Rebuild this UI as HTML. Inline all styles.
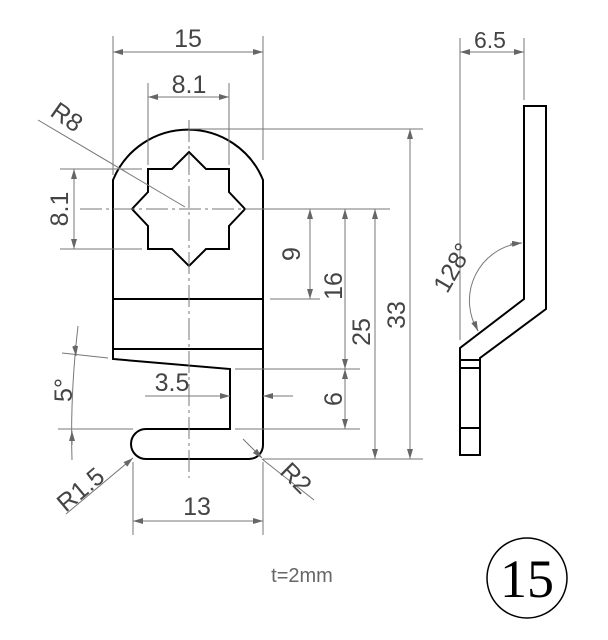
<!DOCTYPE html>
<html><head><style>html,body{margin:0;padding:0;background:#fff}</style></head>
<body>
<svg width="608" height="635" viewBox="0 0 608 635" xmlns="http://www.w3.org/2000/svg">
<defs>
<marker id="a" viewBox="0 0 10 6" refX="10" refY="3" markerWidth="10" markerHeight="6" orient="auto-start-reverse" markerUnits="userSpaceOnUse"><path d="M0,0 L10,3 L0,6 z" fill="#666"/></marker>
</defs>
<g fill="none" stroke="#000" stroke-width="2" stroke-linejoin="miter">
<path d="M113,359 L113,180 A81,81 0 0 1 263,180 L263,445 A14,14 0 0 1 249,459 L146,459 A15,15 0 0 1 146,429 L230,429 L230,369 Z"/>
<line x1="113" y1="299" x2="263" y2="299"/>
<line x1="113" y1="349" x2="263" y2="349"/>
<path d="M148,169 L172,169 L189,152 L206,169 L229,169 L229,192 L245,209 L229,226 L229,249 L206,249 L189,266 L172,249 L148,249 L148,226 L132,209 L148,192 Z"/>
<path d="M524,106 L546,106 L546,309 L480,358 L480,455 L460,455 L460,348 L524,299 Z"/>
<line x1="460" y1="360" x2="480" y2="360"/>
<line x1="460" y1="368" x2="480" y2="368"/>
<line x1="460" y1="428" x2="480" y2="428"/>
</g>
<g fill="none" stroke="#777" stroke-width="1">
<line x1="189" y1="120" x2="189" y2="478" stroke-dasharray="22,4,3,4"/>
<line x1="80" y1="209" x2="278" y2="209" stroke-dasharray="22,4,3,4"/>
<line x1="113" y1="36" x2="113" y2="175"/><line x1="263" y1="36" x2="263" y2="160"/>
<line x1="113" y1="52" x2="263" y2="52" marker-start="url(#a)" marker-end="url(#a)"/>
<line x1="148" y1="83" x2="148" y2="165"/><line x1="229" y1="83" x2="229" y2="165"/>
<line x1="148" y1="97" x2="229" y2="97" marker-start="url(#a)" marker-end="url(#a)"/>
<line x1="38" y1="120" x2="185" y2="207"/>
<line x1="60" y1="169" x2="142" y2="169"/><line x1="60" y1="249" x2="142" y2="249"/>
<line x1="74" y1="169" x2="74" y2="249" marker-start="url(#a)" marker-end="url(#a)"/>
<line x1="190" y1="129" x2="423" y2="129"/>
<line x1="250" y1="209" x2="390" y2="209"/>
<line x1="270" y1="299" x2="320" y2="299"/>
<line x1="235" y1="369" x2="360" y2="369"/>
<line x1="235" y1="429" x2="360" y2="429"/>
<line x1="263" y1="459" x2="423" y2="459"/>
<line x1="310" y1="209" x2="310" y2="299" marker-start="url(#a)" marker-end="url(#a)"/>
<line x1="345" y1="209" x2="345" y2="369" marker-start="url(#a)" marker-end="url(#a)"/>
<line x1="345" y1="369" x2="345" y2="429" marker-start="url(#a)" marker-end="url(#a)"/>
<line x1="375" y1="209" x2="375" y2="459" marker-start="url(#a)" marker-end="url(#a)"/>
<line x1="410" y1="129" x2="410" y2="459" marker-start="url(#a)" marker-end="url(#a)"/>
<line x1="145" y1="396" x2="230" y2="396" marker-end="url(#a)"/>
<line x1="293" y1="396" x2="263" y2="396" marker-end="url(#a)"/>
<line x1="62" y1="353" x2="108" y2="358"/>
<line x1="58" y1="429" x2="133" y2="429"/>
<path d="M78,326 Q70,395 72,460"/>
<line x1="75" y1="345" x2="76" y2="356" marker-end="url(#a)"/>
<line x1="72" y1="445" x2="72" y2="431" marker-end="url(#a)"/>
<line x1="66" y1="514" x2="133" y2="458" marker-end="url(#a)"/>
<line x1="314" y1="500" x2="262" y2="459" />
<line x1="243" y1="439" x2="262" y2="458" marker-end="url(#a)"/>
<line x1="133" y1="462" x2="133" y2="535"/><line x1="263" y1="462" x2="263" y2="535"/>
<line x1="133" y1="521" x2="263" y2="521" marker-start="url(#a)" marker-end="url(#a)"/>
<line x1="460" y1="38" x2="460" y2="340"/><line x1="524" y1="38" x2="524" y2="100"/>
<line x1="460" y1="52" x2="524" y2="52" marker-start="url(#a)" marker-end="url(#a)"/>
<path d="M521,243 A58,58 0 0 0 478,331"/>
<line x1="510" y1="244" x2="522" y2="243" marker-end="url(#a)"/>
<line x1="474" y1="322" x2="478" y2="331" marker-end="url(#a)"/>
</g>
<g font-family="Liberation Sans, sans-serif" font-size="25" fill="#444" text-anchor="middle">
<text x="188" y="47">15</text>
<text x="189" y="93">8.1</text>
<text x="490" y="48" font-size="23">6.5</text>
<text transform="translate(62,124) rotate(35)">R8</text>
<text transform="translate(68,209) rotate(-90)">8.1</text>
<text transform="translate(300,254) rotate(-90)">9</text>
<text transform="translate(342,286) rotate(-90)">16</text>
<text transform="translate(370,332) rotate(-90)">25</text>
<text transform="translate(405,315) rotate(-90)">33</text>
<text transform="translate(342,399) rotate(-90)">6</text>
<text x="172" y="391">3.5</text>
<text transform="translate(72,390) rotate(-90)">5°</text>
<text transform="translate(86,496) rotate(-40)">R1.5</text>
<text transform="translate(290,484) rotate(45)">R2</text>
<text x="197" y="515">13</text>
<text transform="translate(460,272) rotate(-60)">128°</text>
<text x="302" y="582" font-size="20" fill="#666">t=2mm</text>
</g>
<circle cx="527" cy="578" r="40" fill="none" stroke="#000" stroke-width="1.5"/>
<text x="527" y="597" font-family="Liberation Serif, serif" font-size="54" text-anchor="middle" fill="#000">15</text>
</svg>
</body></html>
